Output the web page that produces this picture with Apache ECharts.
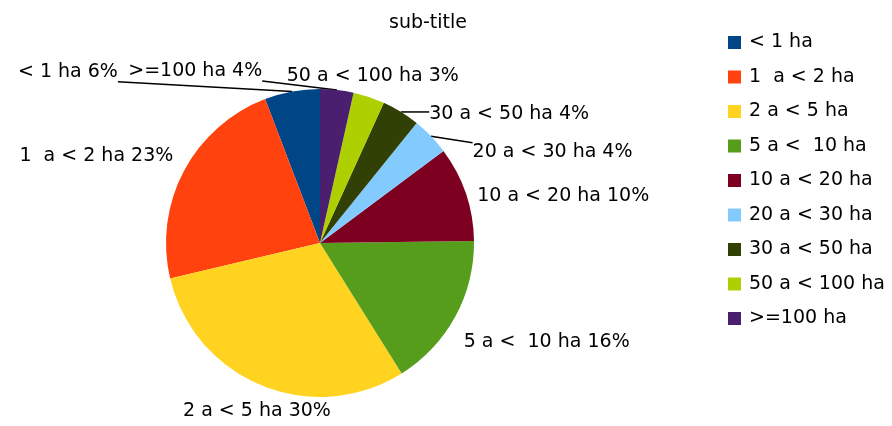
<!DOCTYPE html>
<html>
<head>
<meta charset="utf-8">
<script src="https://cdn.jsdelivr.net/npm/echarts@6/dist/echarts.min.js"></script>
<style>
  html, body { margin: 0; padding: 0; background: #fff; }
  #chart { width: 892px; height: 426px; }
</style>
</head>
<body>
<div id="chart"></div>
<script>
// data (share of farms, %)
const categories = ['< 1 ha', '1  a < 2 ha', '2 a < 5 ha', '5 a <  10 ha', '10 a < 20 ha',
  '20 a < 30 ha', '30 a < 50 ha', '50 a < 100 ha', '>=100 ha'];
const values = [5.8, 22.9, 30.2, 16.3, 10.0, 4.0, 4.0, 3.3, 3.5];
const colors = ['#004586', '#ff420e', '#ffd320', '#579d1c', '#7e0021',
  '#83caff', '#314004', '#aecf00', '#4b1f6f'];

const font = 'DejaVu Sans';
const cx = 320, cy = 243, R = 154;
const labelGap = 12;

// crowded labels at the top get pushed aside (px), like the original does
const labelNudge = {
  '< 1 ha': [-222, 2],
  '>=100 ha': [-143, 3],
  '30 a < 50 ha': [22, 22],
  '20 a < 30 ha': [33, 34],
  '10 a < 20 ha': [0, 6],
  '5 a <  10 ha': [-2, 10],
  '2 a < 5 ha': [0, 5]
};

// place a label around the pie the way office charts do (8 sectors)
function placeLabel(params) {
  const p = params.labelLinePoints[0];
  const ang = Math.atan2(cy - p[1], p[0] - cx);
  let deg = ang * 180 / Math.PI;
  if (deg < 0) deg += 360;
  const ax = cx + (R + labelGap) * Math.cos(ang);
  const ay = cy - (R + labelGap) * Math.sin(ang);
  const w = params.labelRect.width, h = params.labelRect.height;
  const sector = Math.round(deg / 45) % 8; // 0 right, 1 right-top, 2 top ...
  let x, y;
  if (sector === 0 || sector === 1 || sector === 7) x = ax;
  else if (sector === 3 || sector === 4 || sector === 5) x = ax - w;
  else x = ax - w / 2;
  if (sector === 1 || sector === 2 || sector === 3) y = ay - h;
  else if (sector === 5 || sector === 6 || sector === 7) y = ay;
  else y = ay - h / 2;

  const n = labelNudge[categories[params.dataIndex]];
  if (n) { x += n[0]; y += n[1]; }

  // line from slice edge to nearest point of the label box
  const ex = cx + R * Math.cos(ang), ey = cy - R * Math.sin(ang);
  const nx = Math.min(Math.max(ex, x), x + w);
  const ny = Math.min(Math.max(ey, y), y + h);
  const far = Math.hypot(nx - ex, ny - ey) > 20;
  return {
    x: x,
    y: y,
    align: 'left',
    verticalAlign: 'top',
    labelLinePoints: far ? [[ex, ey], [nx, ny]] : [[ex, ey], [ex, ey]]
  };
}

const chart = echarts.init(document.getElementById('chart'));

chart.setOption({
  animation: false,
  color: colors,
  title: {
    text: 'sub-title',
    left: 423,
    textAlign: 'center',
    top: 9,
    textStyle: { fontFamily: font, fontSize: 19, fontWeight: 'normal', color: '#000' }
  },
  legend: {
    orient: 'vertical',
    left: 728,
    top: 33,
    padding: 0,
    icon: 'rect',
    itemWidth: 13,
    itemHeight: 13,
    itemGap: 15.5,
    data: categories,
    textStyle: { fontFamily: font, fontSize: 19, color: '#000', padding: [0, 0, 0, 3] }
  },
  series: [{
    type: 'pie',
    center: [cx, cy],
    radius: R,
    startAngle: 90,
    clockwise: false,
    percentPrecision: 0,
    data: categories.map((c, i) => ({ name: c, value: values[i] })),
    label: {
      show: true,
      position: 'outside',
      alignTo: 'none',
      formatter: '{b} {d}%',
      fontFamily: font,
      fontSize: 19,
      color: '#000'
    },
    labelLine: {
      show: true,
      length: 12,
      length2: 4,
      lineStyle: { color: '#000', width: 1.5 }
    },
    labelLayout: placeLabel,
    itemStyle: { borderWidth: 0 },
    emphasis: { disabled: true }
  }]
});
</script>
</body>
</html>
